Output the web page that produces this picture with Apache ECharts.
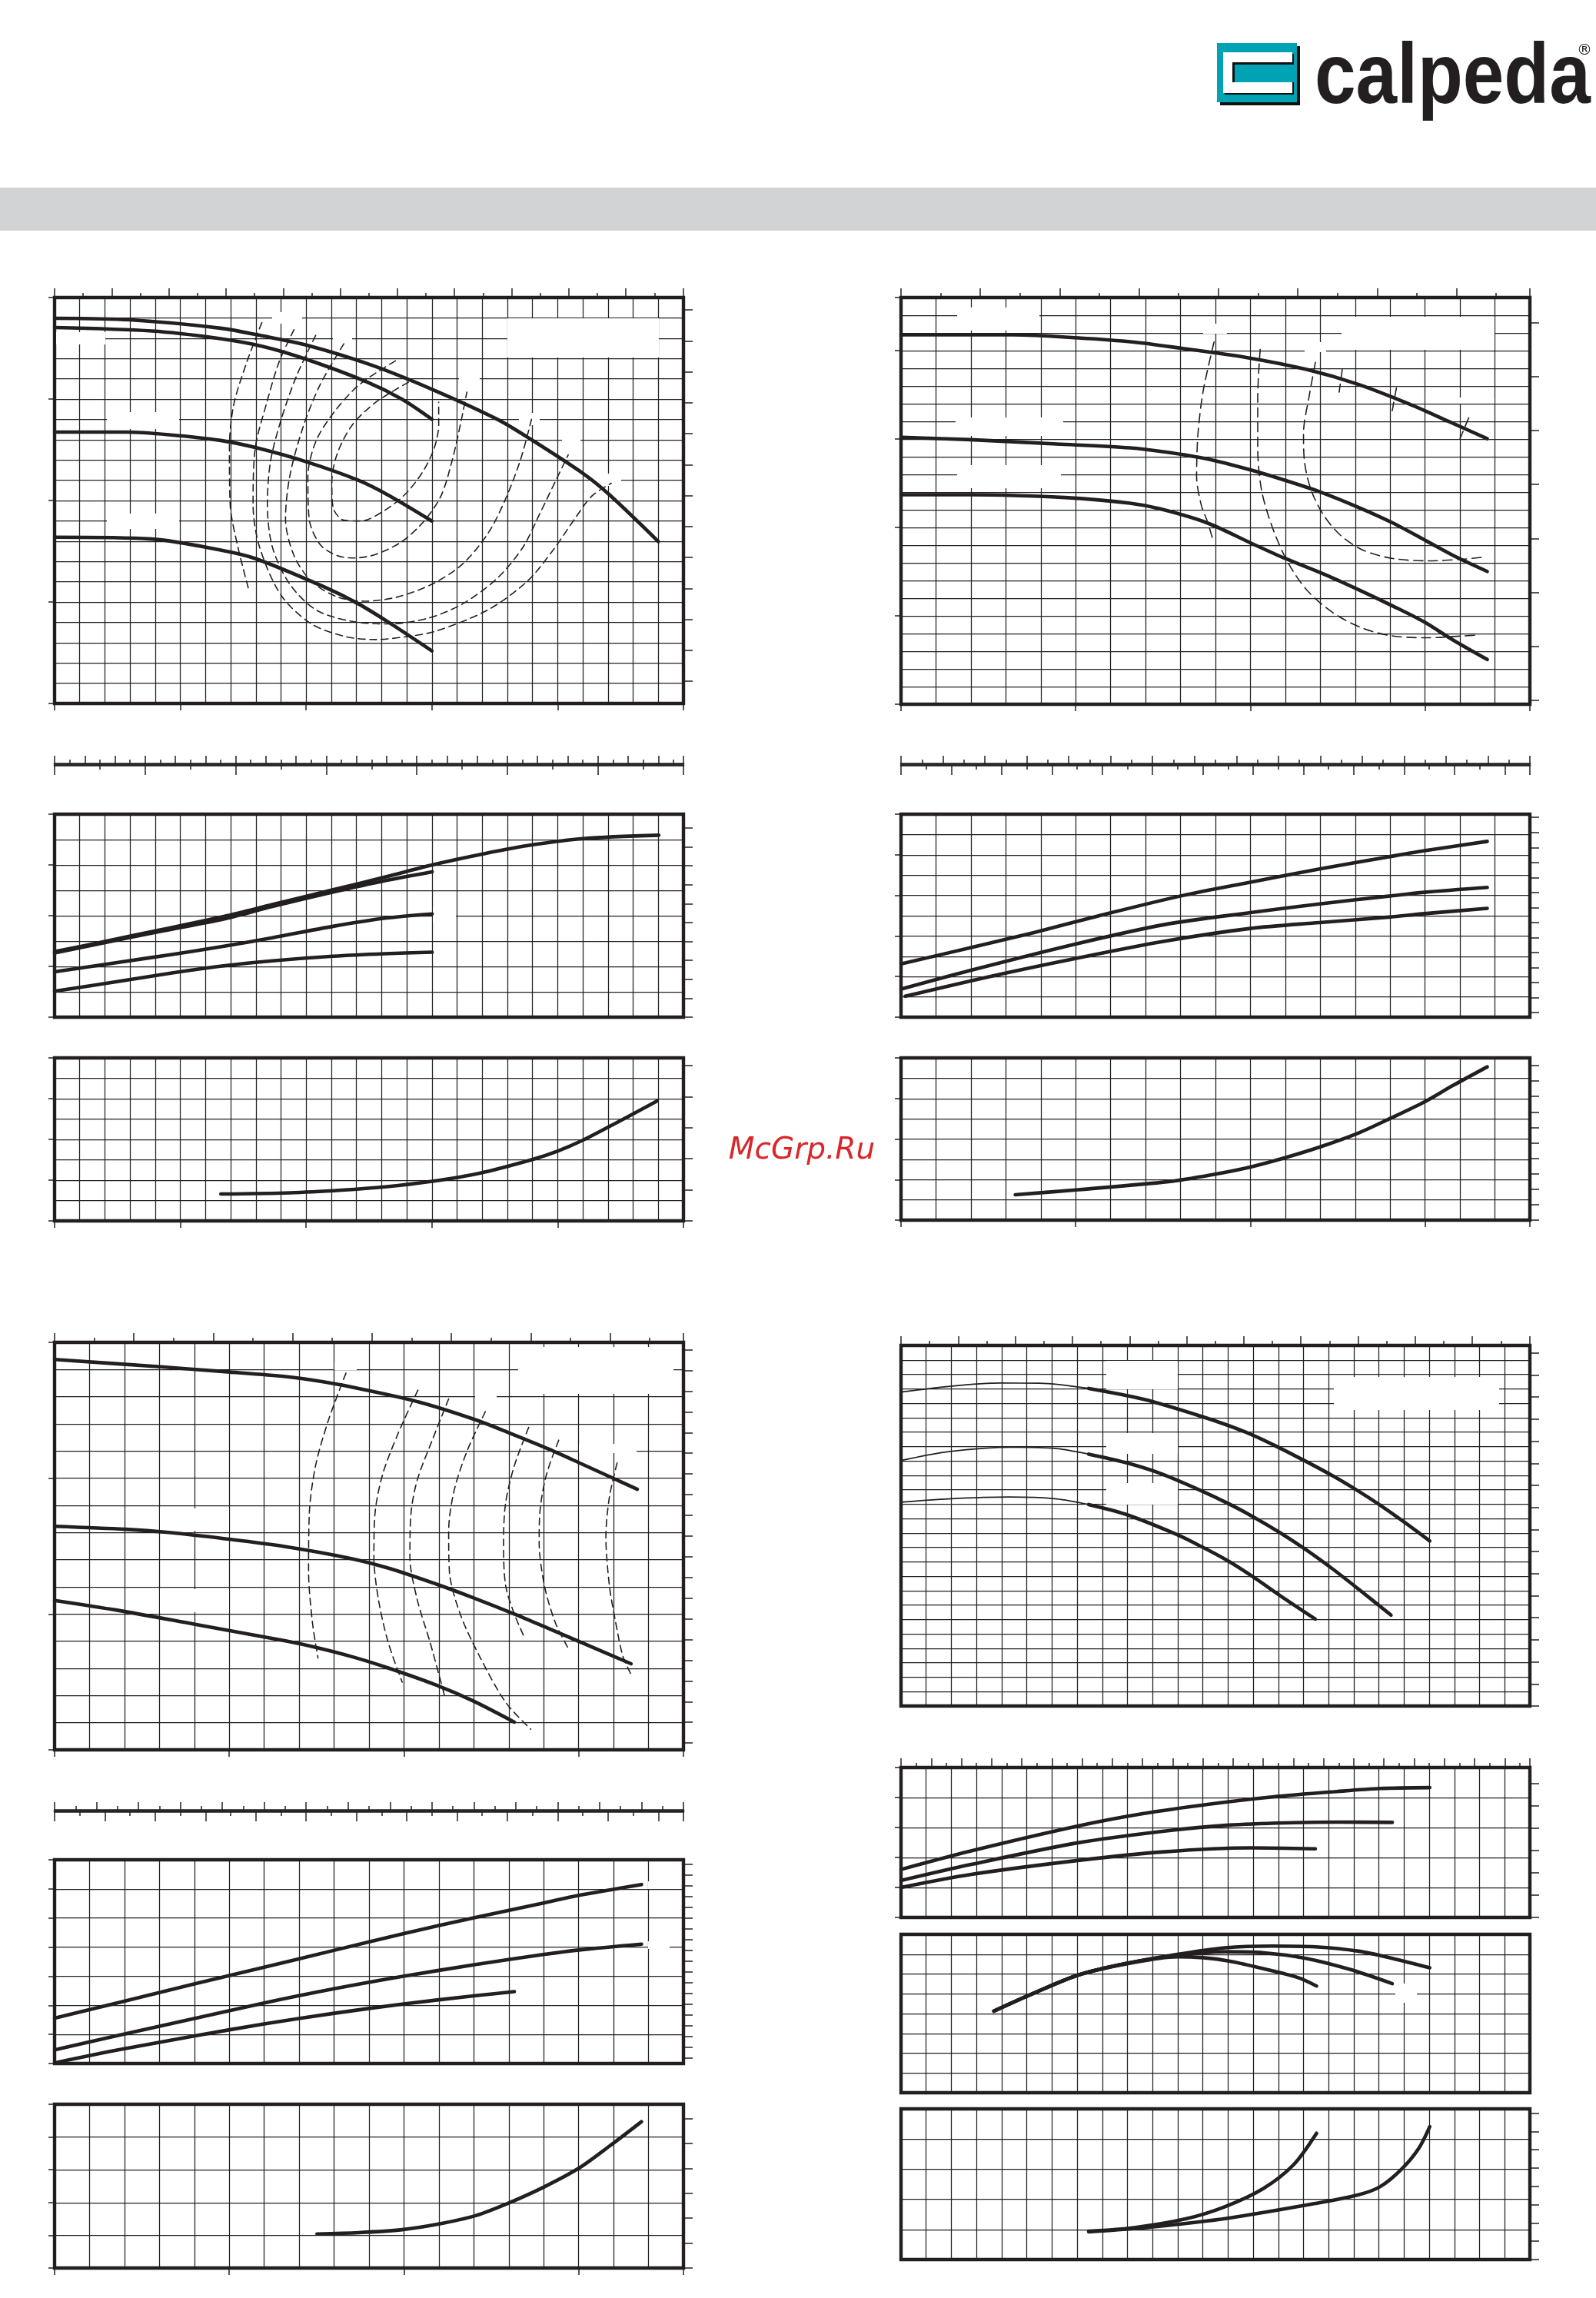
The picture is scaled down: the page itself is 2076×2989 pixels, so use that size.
<!DOCTYPE html>
<html><head><meta charset="utf-8">
<script src="https://cdn.jsdelivr.net/npm/echarts@6/dist/echarts.min.js"></script>
<style>html,body{margin:0;padding:0;background:#fff}#c{width:2076px;height:2989px}</style>
</head><body><div id="c"></div><script>
// ---------- DATA (grid-cell units of each panel) ----------
// Panel A : Q-H (25 x 20 cells)
const A_H1 = [[0,18.98],[3.0,18.9],[6.6,18.49],[8.15,18.14],[10.03,17.65],[12.6,16.67],[15.0,15.48],[17.6,14.0],[18.95,13.0],[21.0,11.34],[22.04,10.3],[24.0,7.98]];
const A_H2 = [[0,18.52],[3.86,18.35],[6.43,18.0],[8.32,17.58],[10.03,16.95],[12.44,15.83],[13.81,14.99],[15.0,14.0]];
const A_H3 = [[0,13.37],[2.83,13.37],[4.55,13.24],[6.6,12.96],[7.98,12.61],[10.03,11.9],[12.09,10.99],[13.29,10.25],[15.0,8.99]];
const A_H4 = [[0,8.19],[3.86,8.1],[6.6,7.56],[7.98,7.14],[10.72,5.74],[12.09,4.9],[13.29,3.99],[15.0,2.59]];
const A_E0 = [[8.24,18.77],[7.64,16.81],[7.12,14.71],[6.95,12.61],[6.98,9.8],[7.29,7.7],[7.72,5.6]];
const A_E5 = [[9.52,18.42],[8.92,16.81],[8.41,14.71],[7.98,12.61],[7.89,9.8],[8.15,7.7],[9.01,5.32],[10.21,3.92],[11.58,3.29],[12.78,3.15],[13.98,3.29],[15.18,3.57],[17.24,4.62],[18.79,6.02],[19.82,7.56],[20.68,9.1],[21.36,10.22],[22.13,10.85]];
const A_E4 = [[10.38,18.14],[9.61,16.11],[9.01,14.0],[8.58,11.9],[8.46,9.8],[8.66,7.7],[9.35,5.88],[10.38,4.62],[11.75,4.06],[13.3,3.92],[14.84,4.2],[16.21,4.9],[17.59,6.16],[18.62,7.7],[19.3,9.38],[19.9,10.92],[20.42,12.25]];
const A_E3 = [[11.5,17.72],[10.55,15.69],[9.87,13.59],[9.35,11.2],[9.18,9.1],[9.52,7.28],[10.21,6.02],[11.24,5.25],[12.35,5.04],[13.64,5.25],[15.01,5.88],[16.21,6.86],[17.24,8.4],[17.93,10.08],[18.53,12.04],[18.96,14.0]];
const A_E2 = [[13.55,16.88],[12.1,15.69],[11.07,14.29],[10.38,12.89],[10.07,11.2],[10.12,9.1],[10.55,7.84],[11.24,7.28],[11.93,7.17],[12.78,7.35],[13.81,7.98],[14.67,8.96],[15.36,10.22],[15.79,11.9],[16.13,13.73],[16.39,15.34]];
const A_E1 = [[14.07,15.83],[12.78,14.85],[11.84,13.73],[11.24,12.32],[11.02,10.92],[11.07,9.66],[11.5,9.03],[12.18,8.99],[13.13,9.52],[13.98,10.36],[14.67,11.48],[15.1,12.61],[15.27,13.73],[15.27,14.85]];
// Panel A : power (25 x 8) and NPSH (25 x 8)
const A_P1 = [[0,2.58],[1.97,2.98],[4.2,3.44],[6.86,4.0],[8.66,4.44],[11.07,5.02],[13.13,5.52],[15.01,6.0],[17.07,6.44],[19.05,6.8],[21.02,7.04],[24.02,7.17]];
const A_P2 = [[0,2.53],[1.97,2.93],[4.2,3.38],[6.78,3.88],[8.66,4.36],[11.07,4.93],[13.13,5.38],[15.01,5.73]];
const A_P3 = [[0,1.79],[2.49,2.15],[4.72,2.48],[6.78,2.8],[8.66,3.13],[11.07,3.58],[13.13,3.9],[15.01,4.07]];
const A_P4 = [[0,1.02],[2.49,1.4],[4.72,1.75],[6.78,2.03],[8.66,2.22],[11.07,2.4],[13.13,2.5],[15.01,2.56]];
const A_N1 = [[6.61,1.32],[9.35,1.38],[11.41,1.51],[13.13,1.67],[15.01,1.94],[16.9,2.34],[18.96,3.0],[19.99,3.42],[21.02,3.97],[22.39,4.85],[23.94,5.88]];
// Panel B : Q-H (18 x 23)
const B_H1 = [[0,20.89],[3.21,20.89],[5.07,20.72],[6.67,20.48],[8.03,20.13],[9.88,19.61],[11.61,18.93],[13.1,18.08],[14.58,16.95],[15.69,15.98],[16.78,15.02]];
const B_H2 = [[0,15.1],[1.98,14.96],[4.45,14.72],[6.55,14.5],[7.54,14.27],[8.77,13.87],[10.01,13.25],[10.87,12.74],[11.98,12.02],[13.1,11.13],[14.08,10.25],[15.07,9.2],[15.94,8.28],[16.78,7.51]];
const B_H3 = [[0,11.85],[1.98,11.85],[4.69,11.69],[6.55,11.37],[7.41,11.05],[8.77,10.25],[10.01,9.12],[11.0,8.24],[12.11,7.35],[13.1,6.47],[14.08,5.55],[14.95,4.68],[15.81,3.62],[16.78,2.53]];
const B_E1 = [[8.96,20.49],[8.65,17.73],[8.5,15.31],[8.46,12.9],[8.59,11.29],[8.77,10.33],[8.93,9.28]];
const B_E2 = [[10.28,20.06],[10.21,17.4],[10.21,14.51],[10.32,12.1],[10.63,10.0],[11.06,8.07],[11.61,6.47],[12.36,5.18],[13.22,4.29],[14.08,3.86],[15.07,3.76],[16.06,3.86],[16.53,3.92]];
const B_E3 = [[11.86,19.33],[11.68,17.4],[11.52,15.31],[11.55,13.7],[11.74,12.1],[12.11,10.65],[12.6,9.52],[13.22,8.72],[14.08,8.24],[15.07,8.11],[16.06,8.2],[16.68,8.32]];
const B_E4 = [[12.63,18.93],[12.54,17.65]];
const B_E5 = [[14.18,17.89],[14.06,16.6]];
const B_E6 = [[16.25,16.2],[16.0,15.02]];
// Panel B : power (18 x 10), NPSH (18 x 8)
const B_P1 = [[0,2.62],[1.98,3.42],[3.83,4.18],[5.68,5.0],[8.03,5.98],[10.0,6.65],[11.98,7.3],[13.96,7.9],[14.98,8.2],[16.78,8.66]];
const B_P2 = [[0,1.38],[1.98,2.3],[4.99,3.6],[7.54,4.56],[10.0,5.15],[11.98,5.58],[13.96,5.96],[14.98,6.15],[16.78,6.39]];
const B_P3 = [[0.12,1.03],[2.59,2.02],[4.99,2.89],[7.54,3.74],[10.0,4.37],[11.98,4.66],[13.96,4.93],[14.98,5.1],[16.78,5.36]];
const B_N1 = [[3.27,1.25],[5.07,1.5],[7.66,1.9],[8.9,2.24],[10.0,2.62],[11.0,3.08],[11.98,3.6],[13.1,4.3],[13.96,4.98],[14.95,5.8],[15.81,6.65],[16.78,7.56]];
// Panel C : Q-H (18 x 15)
const C_H1 = [[0,14.37],[3.03,14.1],[4.88,13.92],[6.61,13.74],[7.72,13.54],[8.83,13.27],[10.44,12.8],[12.05,12.15],[13.03,11.66],[14.15,11.07],[15.13,10.5],[16.0,9.99],[16.68,9.59]];
const C_H2 = [[0,8.23],[2.04,8.12],[3.27,8.0],[4.88,7.77],[6.61,7.48],[8.46,7.05],[9.58,6.68],[10.93,6.1],[11.92,5.63],[13.16,5.0],[14.15,4.46],[15.26,3.85],[16.5,3.17]];
const C_H3 = [[0,5.5],[1.79,5.14],[4.02,4.62],[6.61,4.01],[7.48,3.77],[8.59,3.4],[9.58,3.0],[10.93,2.38],[11.98,1.8],[13.16,1.02]];
const C_E1 = [[8.34,13.87],[7.84,12.14],[7.47,10.46],[7.29,8.68],[7.27,6.58],[7.38,4.69],[7.54,3.38]];
const C_E2 = [[10.4,13.24],[9.82,11.61],[9.39,10.14],[9.17,8.68],[9.14,7.1],[9.27,5.53],[9.55,3.95],[9.95,2.49]];
const C_E3 = [[11.28,12.92],[10.81,11.4],[10.38,9.93],[10.2,8.68],[10.17,7.1],[10.38,5.53],[10.75,3.95],[11.18,1.91]];
const C_E4 = [[12.33,12.45],[11.8,10.98],[11.43,9.51],[11.28,8.05],[11.3,6.58],[11.61,5.0],[12.17,3.43],[12.91,1.75],[13.63,0.76]];
const C_E5 = [[13.57,11.87],[13.16,10.46],[12.91,9.09],[12.85,7.63],[12.91,6.05],[13.16,5.0],[13.44,4.16]];
const C_E6 = [[14.43,11.4],[14.08,10.14],[13.9,8.88],[13.87,7.63],[14.02,6.05],[14.33,4.69],[14.7,3.74]];
const C_E7 = [[16.1,10.56],[15.88,9.3],[15.78,7.84],[15.88,6.05],[16.06,4.69],[16.27,3.43],[16.5,2.78]];
// Panel C : power (18 x 7), NPSH (18 x 5)
const C_P1 = [[0,1.56],[1.79,2.08],[4.02,2.74],[6.0,3.31],[7.97,3.88],[9.95,4.45],[12.05,5.02],[14.02,5.52],[15.01,5.78],[16.8,6.15]];
const C_P2 = [[0,0.47],[1.79,0.96],[4.02,1.55],[6.0,2.08],[7.97,2.56],[9.95,2.99],[12.05,3.4],[14.02,3.75],[15.01,3.9],[16.8,4.1]];
const C_P3 = [[0,0.02],[1.79,0.46],[4.02,0.95],[6.0,1.36],[7.97,1.72],[9.95,2.04],[12.05,2.33],[13.16,2.47]];
const C_N1 = [[7.51,1.04],[8.71,1.08],[9.95,1.17],[10.93,1.33],[12.05,1.6],[13.03,2.0],[14.02,2.48],[15.01,3.05],[15.88,3.72],[16.8,4.47]];
// Panel D : Q-H (25 x 25); thin up to D_THIN_END, thick after
const D_THIN_END = 7.46;
const D_H1 = [[0,21.77],[1.89,22.16],[3.95,22.39],[5.49,22.38],[7.46,22.02],[9.61,21.28],[12.01,20.04],[13.73,18.97],[14.93,18.0],[16.13,16.93],[17.16,15.96],[18.19,14.89],[19.05,13.92],[19.99,12.77],[21.02,11.44]];
const D_H2 = [[0,17.02],[1.89,17.64],[4.46,17.94],[6.18,17.85],[7.46,17.46],[8.92,16.88],[10.3,16.13],[11.84,15.0],[13.04,14.01],[14.07,13.05],[15.1,11.98],[16.13,10.8],[17.16,9.5],[18.19,8.1],[19.48,6.3]];
const D_H3 = [[0,14.13],[1.89,14.36],[4.29,14.49],[6.18,14.36],[7.46,13.97],[8.92,13.3],[10.98,11.88],[12.01,10.99],[13.04,10.02],[14.07,8.87],[15.1,7.62],[16.47,6.03]];
// Panel D : power (25 x 5), efficiency (25 x 8), NPSH (25 x 5)
const D_P1 = [[0,1.6],[2.75,2.21],[7.04,3.05],[9.61,3.46],[12.18,3.77],[14.76,4.02],[17.33,4.2],[19.05,4.3],[21.02,4.33]];
const D_P2 = [[0,1.23],[2.75,1.76],[7.04,2.49],[10.47,2.88],[13.04,3.08],[15.61,3.16],[17.33,3.18],[19.53,3.17]];
const D_P3 = [[0,1.0],[2.75,1.43],[7.04,1.9],[10.47,2.19],[13.9,2.32],[16.47,2.29]];
const D_E1 = [[3.69,4.12],[5.32,5.05],[7.04,5.94],[8.92,6.52],[10.98,6.99],[12.87,7.32],[14.76,7.41],[16.47,7.37],[18.19,7.15],[19.56,6.78],[21.02,6.31]];
const D_E2 = [[3.69,4.12],[5.32,5.05],[7.04,5.94],[8.92,6.52],[10.98,6.94],[12.87,7.12],[14.42,7.07],[16.13,6.78],[17.84,6.23],[19.53,5.51]];
const D_E3 = [[3.69,4.12],[5.32,5.05],[7.04,5.94],[8.92,6.5],[10.98,6.87],[12.01,6.82],[13.04,6.65],[14.42,6.26],[15.79,5.81],[16.52,5.39]];
const D_N1 = [[7.46,0.94],[9.27,1.06],[11.32,1.35],[12.87,1.75],[14.41,2.36],[15.61,3.15],[16.52,4.19]];
const D_N2 = [[7.46,0.92],[9.95,1.08],[13.04,1.38],[16.47,1.86],[18.19,2.15],[19.05,2.42],[19.9,3.0],[20.59,3.7],[21.02,4.41]];
// secondary-unit tick steps (in cells)
const GPM_STEP = 2.2712;      // 10 US gpm per major tick
const LMIN_STEP = 1.2;         // l/min ruler major step
const LS_STEP_A = 3.6, LS_STEP_BC = 1.44;   // l/s ruler major steps
const WATERMARK = 'McGrp.Ru';
const BRAND = 'calpeda';

// ---------- BUILDERS ----------
const INK = '#231f20';
const grids = [], xAxis = [], yAxis = [], series = [], graphics = [];

function box(left, top, width, height, border) {
  grids.push({left, top, width, height, containLabel:false, show: border !== false,
    borderColor: INK, borderWidth: border === false ? 0 : 4.4, backgroundColor:'rgba(0,0,0,0)'});
  return grids.length - 1;
}
function valAxis(list, g, extra) {
  list.push(Object.assign({gridIndex:g, type:'value', silent:true,
    axisLine:{show:false, onZero:false}, axisTick:{show:false}, axisLabel:{show:false},
    splitLine:{show:false}, minorTick:{show:false}, minorSplitLine:{show:false}}, extra));
  return list.length - 1;
}
function tickStyle(len, minorLen) {
  return {axisTick:{show:true, length:len, inside:false, lineStyle:{color:INK, width:1.5}},
    minorTick: minorLen ? {show:true, splitNumber:2, length:minorLen, lineStyle:{color:INK, width:1.5}} : {show:false}};
}
function panel(left, top, width, height, nx, ny) {
  const g = box(left, top, width, height);
  const gl = {show:true, lineStyle:{color:INK, width:1.25}};
  const xi = valAxis(xAxis, g, {min:0, max:nx, interval:1, splitLine:gl});
  const yi = valAxis(yAxis, g, {min:0, max:ny, interval:1, splitLine:gl});
  return {g, xi, yi, left, top, width, height, nx, ny};
}
function ticksX(P, position, interval, len, minorLen) {
  valAxis(xAxis, P.g, Object.assign({position, min:0, max:P.nx, interval}, tickStyle(len, minorLen)));
}
function ticksY(P, position, interval, len) {
  valAxis(yAxis, P.g, Object.assign({position, min:0, max:P.ny, interval}, tickStyle(len)));
}
function rightTicks(P, offset, step, count) {
  const cellH = P.height / P.ny;
  const bottom = P.top + P.height - offset * cellH;
  const h = (count - 1) * step * cellH;
  const g = box(P.left, bottom - h, P.width, h, false);
  valAxis(xAxis, g, {min:0, max:1});
  valAxis(yAxis, g, Object.assign({position:'right', min:0, max:count - 1, interval:1}, tickStyle(12)));
}
function ruler(left, width, y, n, topStep, botStep) {
  const g = box(left, y - 1, width, 2, false);
  valAxis(yAxis, g, {min:0, max:1});
  const al = {show:true, onZero:false, lineStyle:{color:INK, width:2.6}};
  valAxis(xAxis, g, Object.assign({position:'top', min:0, max:n, interval:topStep, axisLine:al}, tickStyle(10, 5)));
  valAxis(xAxis, g, Object.assign({position:'bottom', min:0, max:n, interval:botStep, axisLine:al}, tickStyle(13, 6)));
}
function curve(P, data, w, dash) {
  series.push({type:'line', xAxisIndex:P.xi, yAxisIndex:P.yi, data, symbol:'none', showSymbol:false,
    smooth:0.3, silent:true, animation:false, z:3,
    lineStyle:{color:INK, width:w, type: dash || 'solid', cap:'round', join:'round'}});
}
const solid = (P, d) => curve(P, d, 4.6);
const dashed = (P, d, dash) => curve(P, d, 1.6, dash || [9, 6]);
function mask(x, y, w, h) {
  graphics.push({type:'rect', z:1, silent:true, shape:{x, y, width:w, height:h}, style:{fill:'#ffffff'}});
}

// ---------- PANEL A ----------
const PA = panel(71, 387, 818, 528, 25, 20);
ticksX(PA, 'top', GPM_STEP, 12, 6); ticksX(PA, 'bottom', 5, 9); ticksY(PA, 'left', 5, 8);
rightTicks(PA, 1.09, 1.525, 13);
ruler(71, 818, 994, 25, LMIN_STEP, LS_STEP_A);
const PAP = panel(71, 1059, 818, 264, 25, 8);
ticksY(PAP, 'left', 2, 8); rightTicks(PAP, 0, 0.7457, 11);
const PAN = panel(71, 1376, 818, 212, 25, 8);
ticksY(PAN, 'left', 2, 8); rightTicks(PAN, 0, 1.524, 6); ticksX(PAN, 'bottom', 5, 9);
[A_E0, A_E5, A_E4, A_E3, A_E2, A_E1].forEach(d => dashed(PA, d));
[A_H1, A_H2, A_H3, A_H4].forEach(d => solid(PA, d));
[A_P1, A_P2, A_P3, A_P4].forEach(d => solid(PAP, d));
solid(PAN, A_N1);

// ---------- PANEL B ----------
const PB = panel(1172, 387, 818, 529, 18, 23);
ticksX(PB, 'top', GPM_STEP, 12, 6); ticksX(PB, 'bottom', 5, 9); ticksY(PB, 'left', 5, 8);
rightTicks(PB, 0.23, 3.05, 8);
ruler(1172, 818, 994, 18, LMIN_STEP, LS_STEP_BC);
const PBP = panel(1172, 1059, 818, 264, 18, 10);
ticksY(PBP, 'left', 2, 8); rightTicks(PBP, 0.22, 0.74, 14);
const PBN = panel(1172, 1376, 818, 211, 18, 8);
ticksY(PBN, 'left', 2, 8); rightTicks(PBN, 0, 0.762, 11); ticksX(PBN, 'bottom', 5, 9);
[B_E1, B_E2, B_E3, B_E4, B_E5, B_E6].forEach(d => dashed(PB, d, [12, 7]));
[B_H1, B_H2, B_H3].forEach(d => solid(PB, d));
[B_P1, B_P2, B_P3].forEach(d => solid(PBP, d));
solid(PBN, B_N1);

// ---------- PANEL C ----------
const PC = panel(71, 1746, 818, 530, 18, 15);
ticksX(PC, 'top', GPM_STEP, 12, 6); ticksX(PC, 'bottom', 5, 9); ticksY(PC, 'left', 5, 8);
rightTicks(PC, 0.25, 0.762, 20);
ruler(71, 818, 2355, 18, LMIN_STEP, LS_STEP_BC);
const PCP = panel(71, 2419, 818, 265, 18, 7);
ticksY(PCP, 'left', 1, 8); rightTicks(PCP, 0.18, 0.371, 19);
const PCN = panel(71, 2737, 818, 213, 18, 5);
ticksY(PCN, 'left', 1, 8); rightTicks(PCN, 0, 0.76, 7); ticksX(PCN, 'bottom', 5, 9);
[C_E1, C_E2, C_E3, C_E4, C_E5, C_E6, C_E7].forEach(d => dashed(PC, d));
[C_H1, C_H2, C_H3].forEach(d => solid(PC, d));
[C_P1, C_P2, C_P3].forEach(d => solid(PCP, d));
solid(PCN, C_N1);

// ---------- PANEL D ----------
const PD = panel(1172, 1750, 818, 469, 25, 25);
ticksX(PD, 'top', GPM_STEP, 12, 6); rightTicks(PD, 0, 1.53, 17);
const PDP = panel(1172, 2299, 818, 195, 25, 5);
ticksX(PDP, 'top', LMIN_STEP, 12, 6); ticksY(PDP, 'left', 1, 8); rightTicks(PDP, 0, 0.745, 7);
const PDE = panel(1172, 2516, 818, 206, 25, 8);
const PDN = panel(1172, 2743, 818, 196, 25, 5);
rightTicks(PDN, 0, 0.607, 9);
[D_H1, D_H2, D_H3].forEach(d => {
  curve(PD, d.filter(p => p[0] <= D_THIN_END), 1.7);
  curve(PD, d.filter(p => p[0] >= D_THIN_END), 4.6);
});
[D_P1, D_P2, D_P3].forEach(d => solid(PDP, d));
[D_E1, D_E2, D_E3].forEach(d => solid(PDE, d));
[D_N1, D_N2].forEach(d => solid(PDN, d));

// ---------- blanked label areas ----------
[[660,414,197,51],[73,432,64,16],[139,536,94,22],[139,668,94,20],[597,484,27,16],[675,537,27,16],
 [731,564,24,16],[770,616,38,16],[354,406,39,15],[433,432,25,15],[563,1180,30,20],
 [1745,412,199,43],[1245,400,107,30],[1243,543,140,24],[1245,605,135,30],[1565,421,31,13],[1697,445,28,13],[1874,517,70,8],
 [674,1752,202,61],[435,1772,29,10],[618,1813,28,10],[753,1878,75,12],[208,1962,90,29],[208,2067,90,30],
 [843,2447,28,10],[843,2525,28,10],
 [1735,1791,215,43],[1439,1770,93,37],[1439,1864,93,27],[1439,1929,93,28],[1815,2580,28,25]
].forEach(r => mask(r[0], r[1], r[2], r[3]));

// ---------- header ----------
graphics.push({type:'rect', z:0, shape:{x:0, y:244, width:2076, height:56}, style:{fill:'#d1d3d5'}});
graphics.push({type:'rect', z:0, shape:{x:1587, y:60, width:104, height:77}, style:{fill:'#111'}});
graphics.push({type:'rect', z:0, shape:{x:1583, y:56, width:104, height:77}, style:{fill:'#00a3b4'}});
graphics.push({type:'rect', z:0, shape:{x:1593, y:70, width:90, height:53}, style:{fill:'#111'}});
graphics.push({type:'rect', z:0, shape:{x:1591, y:68, width:90, height:53}, style:{fill:'#ffffff'}});
graphics.push({type:'rect', z:0, shape:{x:1603, y:81, width:80, height:26}, style:{fill:'#111'}});
graphics.push({type:'rect', z:0, shape:{x:1606, y:84, width:78, height:23}, style:{fill:'#00a3b4'}});
graphics.push({type:'text', z:0, x:1710, y:103, scaleX:0.86,
  style:{text:BRAND, x:0, y:0, font:'bold 112px "Liberation Sans", Arial, sans-serif', fill:INK, align:'left', verticalAlign:'middle'}});
graphics.push({type:'text', z:0, x:2061, y:66,
  style:{text:'®', font:'20px "DejaVu Sans", sans-serif', fill:INK, align:'center', verticalAlign:'middle'}});
graphics.push({type:'text', z:5, x:1043, y:1497,
  style:{text:WATERMARK, font:'italic 39px "DejaVu Sans", sans-serif', fill:'#d9262b', align:'center', verticalAlign:'middle'}});

const chart = echarts.init(document.getElementById('c'), null, {renderer:'canvas', width:2076, height:2989});
chart.setOption({backgroundColor:'#ffffff', animation:false, grid:grids, xAxis, yAxis, series, graphic:{elements:graphics}});
</script></body></html>
